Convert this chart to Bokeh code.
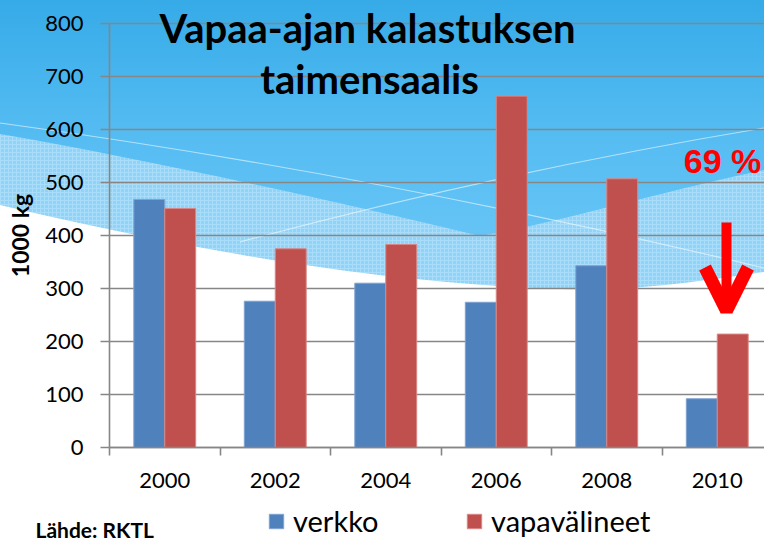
import urllib.parse
from bokeh.plotting import figure
from bokeh.models import (ColumnDataSource, FixedTicker, Label, Legend, LegendItem,
                          Range1d, Arrow, OpenHead)
from bokeh.transform import dodge
from bokeh.embed import file_html
from bokeh.resources import INLINE

# ---- data ----
years = ["2000", "2002", "2004", "2006", "2008", "2010"]
verkko = [468, 276, 310, 274, 343, 92]
vapavalineet = [451, 375, 383, 663, 507, 214]
y_ticks = [0, 100, 200, 300, 400, 500, 600, 700, 800]
series_names = ["verkko", "vapavälineet"]
title_lines = ["Vapaa-ajan kalastuksen", "taimensaalis"]
change_text = "69 %"
source_text = "Lähde: RKTL"
y_label = "1000 kg"

BLUE = "#4F81BD"
RED = "#C0504D"
GRID = "#868686"
FONT = "Lato"

# ---- layout constants (pixels) ----
W, H = 764, 542
AX_X, AX_Y0, AX_YTOP = 109, 447, 23        # y-axis x, y=0 row, y=800 row
CAT_W = 110.5                               # px per category
PX_PER_UNIT = (AX_Y0 - AX_YTOP) / 800.0

def dx(px):
    return (px - AX_X) / CAT_W - 0.5

def dy(py):
    return (AX_Y0 - py) / PX_PER_UNIT

idx = list(range(len(years)))
src = ColumnDataSource(dict(x=idx, verkko=verkko, vapa=vapavalineet))

p = figure(width=W, height=H, output_backend="svg", toolbar_location=None,
           x_range=Range1d(dx(0), dx(W)), y_range=Range1d(dy(H), dy(0)),
           min_border=0)
p.border_fill_color = None
p.background_fill_color = None
p.outline_line_color = None

# grid lines (only right of the y axis)
p.xgrid.grid_line_color = None
g = p.ygrid[0]
g.ticker = FixedTicker(ticks=y_ticks)
if "cross_bounds" in g.properties():
    g.cross_bounds = (-0.5, 6.0)
    g.grid_line_color = GRID
    g.grid_line_width = 1.6
else:
    g.grid_line_color = None
    p.segment(x0=-0.5, x1=6.0, y0=y_ticks, y1=y_ticks, line_color=GRID, line_width=1.6)

bw = 0.28
r1 = p.vbar(x=dodge("x", -bw / 2, range=p.x_range), top="verkko", width=bw, source=src,
            fill_color=BLUE, line_color="#7FA3D3", line_width=1)
r2 = p.vbar(x=dodge("x", bw / 2, range=p.x_range), top="vapa", width=bw, source=src,
            fill_color=RED, line_color="#D98785", line_width=1)

# axes
xa = p.xaxis[0]
xa.fixed_location = 0
xa.bounds = (-0.5, 6.0)
xa.ticker = FixedTicker(ticks=idx, minor_ticks=[i - 0.5 for i in range(len(years) + 1)])
xa.major_label_overrides = {i: y for i, y in zip(idx, years)}
xa.major_tick_out = 0
xa.major_tick_in = 0
xa.minor_tick_out = 8
xa.minor_tick_in = 0
xa.minor_tick_line_color = GRID
xa.minor_tick_line_width = 1.6
xa.axis_line_color = GRID
xa.axis_line_width = 1.6
xa.major_label_text_font = FONT
xa.major_label_text_font_size = "22px"
xa.major_label_text_color = "black"
xa.major_label_standoff = 17

ya = p.yaxis[0]
ya.fixed_location = -0.5
ya.bounds = (0, 800)
ya.ticker = FixedTicker(ticks=y_ticks)
ya.major_tick_out = 9
ya.major_tick_in = 0
ya.minor_tick_out = 0
ya.minor_tick_in = 0
ya.major_tick_line_color = GRID
ya.major_tick_line_width = 1.6
ya.axis_line_color = GRID
ya.axis_line_width = 1.6
ya.major_label_text_font = FONT
ya.major_label_text_font_size = "22px"
ya.major_label_text_color = "black"
ya.major_label_standoff = 17
ya.axis_label = y_label
ya.axis_label_text_font = FONT
ya.axis_label_text_font_style = "bold"
ya.axis_label_text_font_size = "23px"
ya.axis_label_text_color = "black"
ya.axis_label_standoff = 8

# title (baselines corrected for the renderer's text offset)
p.add_layout(Label(x=dx(367), y=dy(27), text=title_lines[0], text_align="center",
                   text_baseline="alphabetic", text_font=FONT, text_font_style="bold",
                   text_font_size="40px", text_color="black"))
p.add_layout(Label(x=dx(369), y=dy(78), text=title_lines[1], text_align="center",
                   text_baseline="alphabetic", text_font=FONT, text_font_style="bold",
                   text_font_size="40px", text_color="black"))

# 69 % annotation and arrow
p.add_layout(Label(x=dx(722), y=dy(160), text=change_text, text_align="center",
                   text_baseline="alphabetic", text_font="Liberation Sans",
                   text_font_style="bold", text_font_size="34px", text_color="#FF0000"))
p.add_layout(Arrow(x_start=dx(726), y_start=dy(222), x_end=dx(726), y_end=dy(310),
                   line_color="#FF0000", line_width=10,
                   end=OpenHead(size=43, line_width=13, line_color="#FF0000")))

# source text
p.add_layout(Label(x=dx(35), y=dy(529), text=source_text, text_align="left",
                   text_baseline="alphabetic", text_font=FONT, text_font_style="bold",
                   text_font_size="21px", text_color="black"))

# legends (one per series so each sits where the reference has it)
def make_legend(label, rend, left_px):
    lg = Legend(items=[LegendItem(label=label, renderers=[rend])],
                orientation="horizontal", location=(left_px, 4))
    lg.margin = 0
    lg.padding = 0
    lg.glyph_width = 18
    lg.glyph_height = 18
    lg.label_standoff = 8
    lg.label_text_font = FONT
    lg.label_text_font_size = "29px"
    lg.label_text_color = "black"
    lg.border_line_color = None
    lg.background_fill_alpha = 0
    return lg

p.add_layout(make_legend(series_names[0], r1, 267))
p.add_layout(make_legend(series_names[1], r2, 465))

# decorative background
svg = (
    "<svg xmlns='http://www.w3.org/2000/svg' width='764' height='542' viewBox='0 0 764 542' preserveAspectRatio='none'>"
    "<defs>"
    "<linearGradient id='g' x1='0' y1='0' x2='0' y2='1'>"
    "<stop offset='0' stop-color='#36ABE8'/><stop offset='0.45' stop-color='#55BCF2'/>"
    "<stop offset='1' stop-color='#70C9F7'/></linearGradient>"
    "<pattern id='t' width='4' height='4' patternUnits='userSpaceOnUse'>"
    "<rect width='4' height='4' fill='#8ED3F8'/>"
    "<path d='M0 0.5H4M0.5 0V4' stroke='#A9DDFA' stroke-width='1'/></pattern>"
    "</defs>"
    "<rect x='0' y='0' width='764' height='542' fill='white'/>"
    "<rect x='0' y='0' width='764' height='300' fill='url(#g)'/>"
    "<path d='M0 134 C150 160 330 200 480 236 C560 222 660 192 764 170 L764 300 L0 300 Z' fill='url(#t)'/>"
    "<path d='M0 205 C150 240 350 282 560 289 C640 291 700 281 764 272 L764 542 L0 542 Z' fill='white'/>"
    "<path d='M0 123 Q380 175 764 268' fill='none' stroke='white' stroke-opacity='0.55' stroke-width='1.2'/>"
    "<path d='M240 242 Q500 172 764 128' fill='none' stroke='white' stroke-opacity='0.55' stroke-width='1.2'/>"
    "</svg>"
)
uri = "data:image/svg+xml," + urllib.parse.quote(svg, safe="")
p.styles = {"background-image": f"url('{uri}')", "background-size": "100% 100%",
            "background-repeat": "no-repeat"}

open("out.html", "w").write(file_html(p, INLINE))
